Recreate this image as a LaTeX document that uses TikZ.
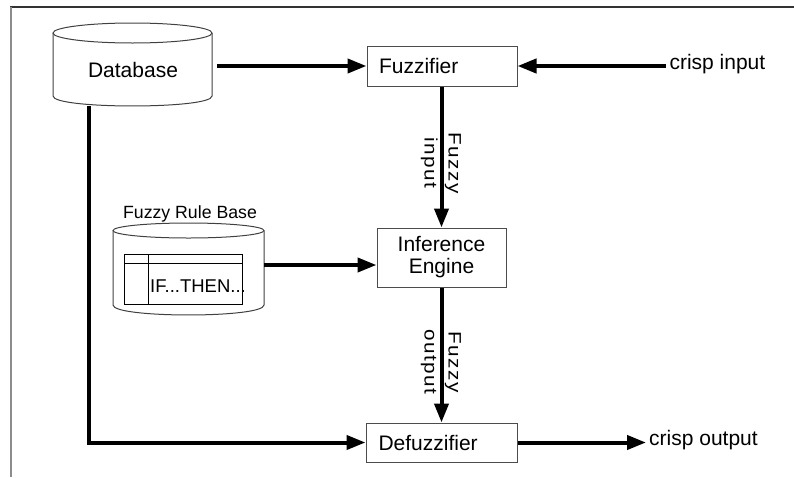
\documentclass[tikz,border=0pt]{standalone}
\usepackage{fontspec}
\setmainfont{Liberation Sans}
\newfontfamily\spacedfont[FakeStretch=1.15, LetterSpace=8]{Liberation Sans}
\usetikzlibrary{arrows.meta}
\begin{document}
\begin{tikzpicture}[x=1pt,y=-1pt,
  box/.style={draw=black!70, line width=1pt, fill=white, inner ysep=0pt, font=\fontsize{21}{22}\selectfont},
  conn/.style={line width=4pt, -{Triangle[length=19pt,width=14pt]}},
  lbl/.style={font=\fontsize{21}{22}\selectfont},
  vlbl/.style={font=\spacedfont\fontsize{18}{24}\selectfont, rotate=-90, align=center, inner sep=0pt},
  outline/.style={draw=black!75, line width=1pt},
]
\useasboundingbox (0,0) rectangle (794,477);
% frame
\draw[line width=1.5pt, black!80] (10,7) -- (794,7);
\draw[line width=1.5pt, black!45] (11,7) -- (11,477);

% Database cylinder
\draw[outline] (53,33) -- (53,96) .. controls (53,109.3) and (212,109.3) .. (212,96) -- (212,33);
\draw[outline] (132.5,33) ellipse[x radius=79.5, y radius=10];
\node[inner sep=0pt, minimum width=159pt, minimum height=83pt] (db) at (132.5,64.5) {};
\node[lbl] (dbtext) at (133,70) {Database};
\coordinate (dbb) at (89,106);

% Fuzzy rule base cylinder
\draw[outline] (113,230.5) -- (113,305) .. controls (113,318.3) and (264,318.3) .. (264,305) -- (264,230.5);
\draw[outline] (188.5,230.5) ellipse[x radius=75.5, y radius=7.5];
\node[font=\fontsize{17.7}{20}\selectfont, anchor=base, inner sep=0pt] (rbl) at (190,218) {Fuzzy Rule Base};
\draw[line width=1pt] (124,254) rectangle (242,304);
\draw[line width=1pt] (124,263) -- (242,263);
\draw[line width=1pt] (148,254) -- (148,304);
\node[font=\fontsize{18.5}{20}\selectfont, anchor=base west, inner sep=0pt] (ifthen) at (150,292) {IF...THEN...};
\node[inner sep=0pt, minimum width=151pt, minimum height=0pt] (rb) at (188.5,265) {};

% process boxes
\node[box, minimum height=40pt, text width=126pt, inner xsep=12pt, align=left] (fz) at (442,66) {Fuzzifier};
\node[box, minimum height=59pt, minimum width=129pt, align=center] (ie) at (441.5,257.5) {Inference\\Engine};
\node[box, minimum height=39pt, text width=126pt, inner xsep=12.5pt, align=left] (df) at (441.5,442.5) {Defuzzifier};

% terminals
\node[lbl, anchor=west] (ci) at (666,64) {crisp input};
\node[lbl, anchor=west, inner xsep=3pt] (co) at (646,440) {crisp output};

% connectors
\draw[conn] ([xshift=5pt]db.east |- fz.west) -- (fz.west);
\draw[conn] (ci.west |- fz.east) -- (fz.east);
\draw[conn] (fz.south -| ie.north) -- (ie.north);
\draw[conn] (rb.east) -- (rb.east -| ie.west);
\draw[conn] (ie.south) -- (df.north);
\draw[conn] (df.east) -- (co.west |- df.east);
\draw[conn] (dbb) |- (df.west);

% arrow labels
\node[vlbl] (lin) at (441,163) {Fuzzy\\input};
\node[vlbl] (lout) at (441,362) {Fuzzy\\output};
\end{tikzpicture}
\end{document}
